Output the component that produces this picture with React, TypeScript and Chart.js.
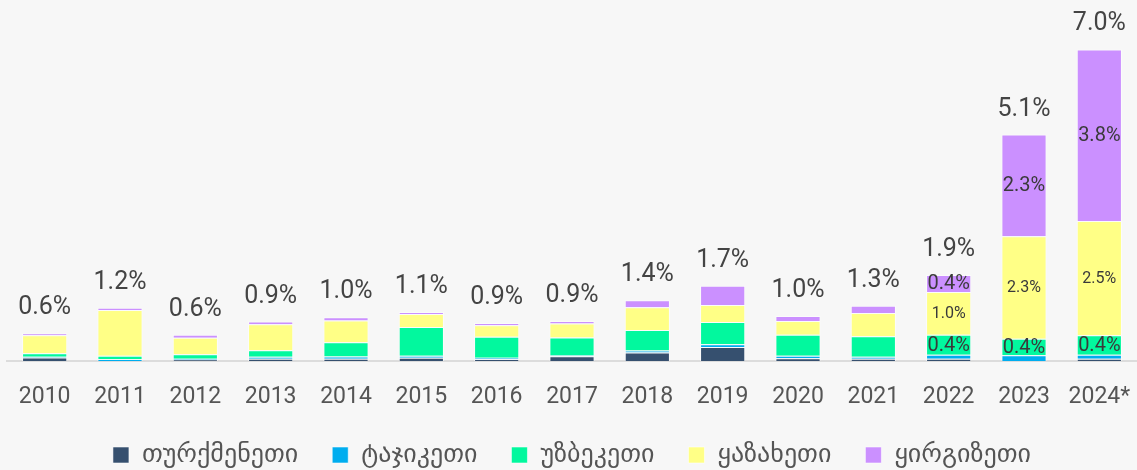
import React, { useEffect, useRef } from "react";
import { Chart, registerables } from "chart.js";

Chart.register(...registerables);

const years = ["2010", "2011", "2012", "2013", "2014", "2015", "2016", "2017", "2018", "2019", "2020", "2021", "2022", "2023", "2024*"];

const turkmenistan = [0.08, 0.0, 0.03, 0.05, 0.05, 0.075, 0.04, 0.105, 0.19, 0.315, 0.06, 0.05, 0.05, 0.0, 0.05];
const tajikistan = [0.015, 0.04, 0.02, 0.045, 0.05, 0.04, 0.035, 0.02, 0.045, 0.06, 0.06, 0.045, 0.09, 0.13, 0.09];
const uzbekistan = [0.08, 0.075, 0.1, 0.145, 0.32, 0.65, 0.47, 0.4, 0.46, 0.5, 0.47, 0.46, 0.45, 0.37, 0.44];
const kazakhstan = [0.4, 1.03, 0.37, 0.585, 0.49, 0.29, 0.255, 0.315, 0.51, 0.38, 0.31, 0.52, 0.96, 2.3, 2.56];
const kyrgyzstan = [0.045, 0.05, 0.07, 0.06, 0.07, 0.045, 0.05, 0.06, 0.16, 0.435, 0.11, 0.165, 0.38, 2.28, 3.85];

const totalLabels = ["0.6%", "1.2%", "0.6%", "0.9%", "1.0%", "1.1%", "0.9%", "0.9%", "1.4%", "1.7%", "1.0%", "1.3%", "1.9%", "5.1%", "7.0%"];
const uzbekLabels = [null, null, null, null, null, null, null, null, null, null, null, null, "0.4%", "0.4%", "0.4%"];
const kazakhLabels = [null, null, null, null, null, null, null, null, null, null, null, null, "1.0%", "2.3%", "2.5%"];
const kyrgyzLabels = [null, null, null, null, null, null, null, null, null, null, null, null, "0.4%", "2.3%", "3.8%"];

const seriesNames = ["თურქმენეთი", "ტაჯიკეთი", "უზბეკეთი", "ყაზახეთი", "ყირგიზეთი"];
const seriesColors = ["#36506F", "#00ADEF", "#02F89E", "#FFFF86", "#CB90FF"];

const FONT = "Roboto, 'DejaVu Sans', sans-serif";
const LEGEND_FONT = "'DejaVu Sans', sans-serif";

const labelPlugin = {
  id: "barLabels",
  afterDatasetsDraw(chart: any) {
    const ctx = chart.ctx;
    ctx.save();
    const sets = [
      { ds: 2, labels: uzbekLabels, size: 20 },
      { ds: 3, labels: kazakhLabels, size: 16 },
      { ds: 4, labels: kyrgyzLabels, size: 20 },
    ];
    ctx.textAlign = "center";
    ctx.textBaseline = "middle";
    ctx.fillStyle = "#3a3a3a";
    sets.forEach(({ ds, labels, size }) => {
      const meta = chart.getDatasetMeta(ds);
      ctx.font = `${size}px ${FONT}`;
      meta.data.forEach((bar: any, i: number) => {
        const t = labels[i];
        if (!t) return;
        const p = bar.getProps(["x", "y", "base"], true);
        ctx.fillText(t, p.x, (p.y + p.base) / 2 + 1);
      });
    });
    const topMeta = chart.getDatasetMeta(4);
    ctx.font = `25px ${FONT}`;
    ctx.fillStyle = "#444";
    ctx.textBaseline = "alphabetic";
    topMeta.data.forEach((bar: any, i: number) => {
      const p = bar.getProps(["x", "y"], true);
      ctx.fillText(totalLabels[i], p.x, p.y - 19);
    });
    ctx.restore();
  },
};

export default function App() {
  const ref = useRef<HTMLCanvasElement | null>(null);
  useEffect(() => {
    document.body.style.margin = "0";
    document.body.style.overflow = "hidden";
    document.body.style.background = "#F7F7F7";
    const series = [turkmenistan, tajikistan, uzbekistan, kazakhstan, kyrgyzstan];
    const chart = new Chart(ref.current as HTMLCanvasElement, {
      type: "bar",
      data: {
        labels: years,
        datasets: series.map((d, i) => ({
          label: seriesNames[i],
          data: d,
          backgroundColor: seriesColors[i],
          borderColor: "rgba(255,255,255,0.55)",
          borderWidth: 1,
          barPercentage: 0.6,
          categoryPercentage: 1,
        })),
      },
      options: {
        animation: false,
        responsive: false,
        maintainAspectRatio: false,
        layout: { padding: { left: 7, right: 0, top: 0, bottom: 0 } },
        scales: {
          x: {
            stacked: true,
            grid: { display: false, drawTicks: false },
            border: { display: true, color: "#DCDCDC", width: 2 },
            ticks: { color: "#555", font: { size: 23, family: FONT }, padding: 22 },
            afterFit: (scale: any) => {
              scale.height = 47;
              scale.paddingLeft = 0;
              scale.paddingRight = 0;
            },
          },
          y: {
            stacked: true,
            display: false,
            min: 0,
            max: 8.1,
          },
        },
        plugins: {
          legend: {
            position: "bottom",
            labels: {
              boxWidth: 16,
              boxHeight: 16,
              padding: 34,
              color: "#555",
              font: { size: 26, family: LEGEND_FONT },
            },
          },
          tooltip: { enabled: false },
        },
      },
      plugins: [labelPlugin],
    });
    return () => chart.destroy();
  }, []);
  return (
    <div style={{ width: 1137, height: 478 }}>
      <canvas ref={ref} width={1137} height={478} style={{ display: "block" }} />
    </div>
  );
}
